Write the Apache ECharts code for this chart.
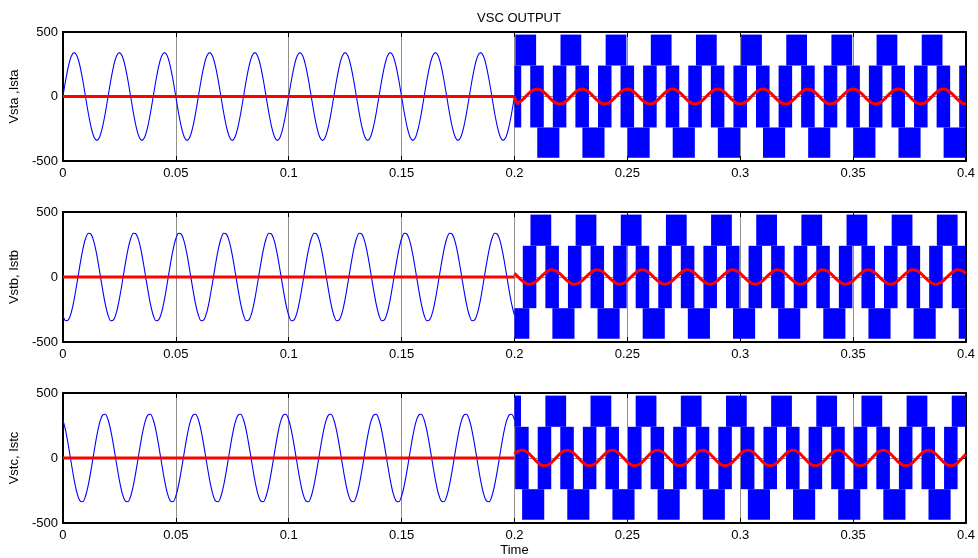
<!DOCTYPE html>
<html>
<head>
<meta charset="utf-8">
<script src="https://cdn.jsdelivr.net/npm/echarts@6/dist/echarts.min.js"></script>
<style>
html,body{margin:0;padding:0;background:#fff;}
#chart{width:978px;height:558px;}
</style>
</head>
<body>
<div id="chart"></div>
<script>
// ---------------- DATA ----------------
const xTickLabels = ['0','0.05','0.1','0.15','0.2','0.25','0.3','0.35','0.4'];
const yNames = ['Vsta ,Ista', 'Vstb, Istb', 'Vstc, Istc'];

// sample step of the waveforms (s)
const sampleStep = 0.00125;
const sineStart = 0.0;     // sinusoidal voltage from 0 to 0.2 s
const outStart = 0.2;      // VSC output from 0.2 to 0.4 s

// blue sinusoidal voltage, 0 .. 0.2 s
const vSineA = [
  0,130,240,314,340,314,240,130,0,-130,-240,-314,-340,-314,-240,-130,
  0,130,240,314,340,314,240,130,0,-130,-240,-314,-340,-314,-240,-130,
  0,130,240,314,340,314,240,130,0,-130,-240,-314,-340,-314,-240,-130,
  0,130,240,314,340,314,240,130,0,-130,-240,-314,-340,-314,-240,-130,
  0,130,240,314,340,314,240,130,0,-130,-240,-314,-340,-314,-240,-130,
  0,130,240,314,340,314,240,130,0,-130,-240,-314,-340,-314,-240,-130,
  0,130,240,314,340,314,240,130,0,-130,-240,-314,-340,-314,-240,-130,
  0,130,240,314,340,314,240,130,0,-130,-240,-314,-340,-314,-240,-130,
  0,130,240,314,340,314,240,130,0,-130,-240,-314,-340,-314,-240,-130,
  0,130,240,314,340,314,240,130,0,-130,-240,-314,-340,-314,-240,-130,
  0];
const vSineB = [
  -294,-337,-328,-270,-170,-44,88,207,294,337,328,270,170,44,-88,-207,
  -294,-337,-328,-270,-170,-44,88,207,294,337,328,270,170,44,-88,-207,
  -294,-337,-328,-270,-170,-44,88,207,294,337,328,270,170,44,-88,-207,
  -294,-337,-328,-270,-170,-44,88,207,294,337,328,270,170,44,-88,-207,
  -294,-337,-328,-270,-170,-44,88,207,294,337,328,270,170,44,-88,-207,
  -294,-337,-328,-270,-170,-44,88,207,294,337,328,270,170,44,-88,-207,
  -294,-337,-328,-270,-170,-44,88,207,294,337,328,270,170,44,-88,-207,
  -294,-337,-328,-270,-170,-44,88,207,294,337,328,270,170,44,-88,-207,
  -294,-337,-328,-270,-170,-44,88,207,294,337,328,270,170,44,-88,-207,
  -294,-337,-328,-270,-170,-44,88,207,294,337,328,270,170,44,-88,-207,
  -294];
const vSineC = [
  294,207,88,-44,-170,-270,-328,-337,-294,-207,-88,44,170,270,328,337,
  294,207,88,-44,-170,-270,-328,-337,-294,-207,-88,44,170,270,328,337,
  294,207,88,-44,-170,-270,-328,-337,-294,-207,-88,44,170,270,328,337,
  294,207,88,-44,-170,-270,-328,-337,-294,-207,-88,44,170,270,328,337,
  294,207,88,-44,-170,-270,-328,-337,-294,-207,-88,44,170,270,328,337,
  294,207,88,-44,-170,-270,-328,-337,-294,-207,-88,44,170,270,328,337,
  294,207,88,-44,-170,-270,-328,-337,-294,-207,-88,44,170,270,328,337,
  294,207,88,-44,-170,-270,-328,-337,-294,-207,-88,44,170,270,328,337,
  294,207,88,-44,-170,-270,-328,-337,-294,-207,-88,44,170,270,328,337,
  294,207,88,-44,-170,-270,-328,-337,-294,-207,-88,44,170,270,328,337,
  294];

// red current: idle (0..0.2 s) and output (0.2..0.4 s)
const iIdleT = [0, 0.2];
const iIdleV = [0, 0];
const iOutA = [
  0,-54,-41,-22,0,22,41,54,58,54,41,22,0,-22,-41,-54,
  -58,-54,-41,-22,0,22,41,54,58,54,41,22,0,-22,-41,-54,
  -58,-54,-41,-22,0,22,41,54,58,54,41,22,0,-22,-41,-54,
  -58,-54,-41,-22,0,22,41,54,58,54,41,22,0,-22,-41,-54,
  -58,-54,-41,-22,0,22,41,54,58,54,41,22,0,-22,-41,-54,
  -58,-54,-41,-22,0,22,41,54,58,54,41,22,0,-22,-41,-54,
  -58,-54,-41,-22,0,22,41,54,58,54,41,22,0,-22,-41,-54,
  -58,-54,-41,-22,0,22,41,54,58,54,41,22,0,-22,-41,-54,
  -58,-54,-41,-22,0,22,41,54,58,54,41,22,0,-22,-41,-54,
  -58,-54,-41,-22,0,22,41,54,58,54,41,22,0,-22,-41,-54,
  -58];
const iOutB = [
  28,7,-14,-33,-48,-55,-53,-44,-28,-7,14,33,48,55,53,44,
  28,7,-14,-33,-48,-55,-53,-44,-28,-7,14,33,48,55,53,44,
  28,7,-14,-33,-48,-55,-53,-44,-28,-7,14,33,48,55,53,44,
  28,7,-14,-33,-48,-55,-53,-44,-28,-7,14,33,48,55,53,44,
  28,7,-14,-33,-48,-55,-53,-44,-28,-7,14,33,48,55,53,44,
  28,7,-14,-33,-48,-55,-53,-44,-28,-7,14,33,48,55,53,44,
  28,7,-14,-33,-48,-55,-53,-44,-28,-7,14,33,48,55,53,44,
  28,7,-14,-33,-48,-55,-53,-44,-28,-7,14,33,48,55,53,44,
  28,7,-14,-33,-48,-55,-53,-44,-28,-7,14,33,48,55,53,44,
  28,7,-14,-33,-48,-55,-53,-44,-28,-7,14,33,48,55,53,44,
  28];
const iOutC = [
  30,48,58,59,52,37,16,-8,-30,-48,-58,-59,-52,-37,-16,8,
  30,48,58,59,52,37,16,-8,-30,-48,-58,-59,-52,-37,-16,8,
  30,48,58,59,52,37,16,-8,-30,-48,-58,-59,-52,-37,-16,8,
  30,48,58,59,52,37,16,-8,-30,-48,-58,-59,-52,-37,-16,8,
  30,48,58,59,52,37,16,-8,-30,-48,-58,-59,-52,-37,-16,8,
  30,48,58,59,52,37,16,-8,-30,-48,-58,-59,-52,-37,-16,8,
  30,48,58,59,52,37,16,-8,-30,-48,-58,-59,-52,-37,-16,8,
  30,48,58,59,52,37,16,-8,-30,-48,-58,-59,-52,-37,-16,8,
  30,48,58,59,52,37,16,-8,-30,-48,-58,-59,-52,-37,-16,8,
  30,48,58,59,52,37,16,-8,-30,-48,-58,-59,-52,-37,-16,8,
  30];

// PWM voltage levels (V): bands the switching fills
const bandTop = [240, 480];
const bandMid = [-240, 240];
const bandBot = [-475, -240];

// PWM switching bands: [start, end] times (s)
const topA = [[0.2004,0.2096],[0.2204,0.2296],[0.2404,0.2496],[0.2604,0.2696],[0.2804,0.2896],
  [0.3004,0.3096],[0.3204,0.3296],[0.3404,0.3496],[0.3604,0.3696],[0.3804,0.3896]];
const botA = [[0.2101,0.2199],[0.2301,0.2399],[0.2501,0.2599],[0.2701,0.2799],[0.2901,0.2999],
  [0.3101,0.3199],[0.3301,0.3399],[0.3501,0.3599],[0.3701,0.3799],[0.3901,0.3999]];
const midA = [[0.2,0.203],[0.207,0.213],[0.217,0.223],[0.227,0.233],[0.237,0.243],[0.247,0.253],
  [0.257,0.263],[0.267,0.273],[0.277,0.283],[0.287,0.293],[0.297,0.303],[0.307,0.313],
  [0.317,0.323],[0.327,0.333],[0.337,0.343],[0.347,0.353],[0.357,0.363],[0.367,0.373],
  [0.377,0.383],[0.387,0.393],[0.397,0.4]];

const topB = [[0.2071,0.2163],[0.2271,0.2363],[0.2471,0.2563],[0.2671,0.2763],[0.2871,0.2963],
  [0.3071,0.3163],[0.3271,0.3363],[0.3471,0.3563],[0.3671,0.3763],[0.3871,0.3963]];
const botB = [[0.2,0.2066],[0.2168,0.2266],[0.2368,0.2466],[0.2568,0.2666],[0.2768,0.2866],
  [0.2968,0.3066],[0.3168,0.3266],[0.3368,0.3466],[0.3568,0.3666],[0.3768,0.3866],[0.3968,0.4]];
const midB = [[0.2037,0.2097],[0.2137,0.2197],[0.2237,0.2297],[0.2337,0.2397],[0.2437,0.2497],
  [0.2537,0.2597],[0.2637,0.2697],[0.2737,0.2797],[0.2837,0.2897],[0.2937,0.2997],
  [0.3037,0.3097],[0.3137,0.3197],[0.3237,0.3297],[0.3337,0.3397],[0.3437,0.3497],
  [0.3537,0.3597],[0.3637,0.3697],[0.3737,0.3797],[0.3837,0.3897],[0.3937,0.3997]];

const topC = [[0.2,0.2029],[0.2137,0.2229],[0.2337,0.2429],[0.2537,0.2629],[0.2737,0.2829],
  [0.2937,0.3029],[0.3137,0.3229],[0.3337,0.3429],[0.3537,0.3629],[0.3737,0.3829],[0.3937,0.4]];
const botC = [[0.2034,0.2132],[0.2234,0.2332],[0.2434,0.2532],[0.2634,0.2732],[0.2834,0.2932],
  [0.3034,0.3132],[0.3234,0.3332],[0.3434,0.3532],[0.3634,0.3732],[0.3834,0.3932]];
const midC = [[0.2003,0.2063],[0.2103,0.2163],[0.2203,0.2263],[0.2303,0.2363],[0.2403,0.2463],
  [0.2503,0.2563],[0.2603,0.2663],[0.2703,0.2763],[0.2803,0.2863],[0.2903,0.2963],
  [0.3003,0.3063],[0.3103,0.3163],[0.3203,0.3263],[0.3303,0.3363],[0.3403,0.3463],
  [0.3503,0.3563],[0.3603,0.3663],[0.3703,0.3763],[0.3803,0.3863],[0.3903,0.3963]];

// ---------------- CHART ----------------
const FONT = '"Liberation Sans", Arial, Helvetica, sans-serif';
const phases = [
  {sine: vSineA, iout: iOutA, top: topA, mid: midA, bot: botA},
  {sine: vSineB, iout: iOutB, top: topB, mid: midB, bot: botB},
  {sine: vSineC, iout: iOutC, top: topC, mid: midC, bot: botC}
];
const gridBoxes = [
  {left: 62, right: 12, top: 32, height: 129},
  {left: 62, right: 12, top: 212, height: 130},
  {left: 62, right: 12, top: 393, height: 130}
];

function pairs(t0, vals) {
  return vals.map((v, i) => [+(t0 + i * sampleStep).toFixed(6), v]);
}
function bands(list, band) {
  return list.map(iv => [iv[0], iv[1], band[0], band[1]]);
}
function renderBlock(params, api) {
  const p0 = api.coord([api.value(0), api.value(3)]);
  const p1 = api.coord([api.value(1), api.value(2)]);
  return {
    type: 'rect',
    shape: {x: p0[0], y: p0[1], width: p1[0] - p0[0], height: p1[1] - p0[1]},
    style: {fill: '#0000ff'}
  };
}

const axisLineStyle = {show: true, onZero: false, lineStyle: {color: '#000', width: 2}};
const tickStyle = {show: true, inside: true, length: 5, lineStyle: {color: '#000', width: 1}};
const gridLineStyle = {show: true, lineStyle: {color: '#909090', width: 1}};
const xAxes = [], yAxes = [], series = [];

gridBoxes.forEach((g, i) => {
  const last = i === gridBoxes.length - 1;
  xAxes.push({
    type: 'value', gridIndex: i, position: 'bottom', min: 0, max: 0.4, interval: 0.05,
    axisLine: axisLineStyle, axisTick: tickStyle,
    axisLabel: {margin: 6, fontSize: 13, color: '#000', fontFamily: FONT,
      formatter: v => xTickLabels[Math.round(v / 0.05)]},
    splitLine: gridLineStyle,
    name: last ? 'Time' : '', nameLocation: 'middle', nameGap: 21,
    nameTextStyle: {fontSize: 13, color: '#000', fontFamily: FONT}
  });
  xAxes.push({
    type: 'value', gridIndex: i, position: 'top', min: 0, max: 0.4, interval: 0.05,
    axisLine: axisLineStyle, axisTick: tickStyle, axisLabel: {show: false}, splitLine: {show: false}
  });
  yAxes.push({
    type: 'value', gridIndex: i, position: 'left', min: -500, max: 500, interval: 500,
    axisLine: axisLineStyle, axisTick: tickStyle,
    axisLabel: {margin: 5, fontSize: 13, color: '#000', fontFamily: FONT},
    splitLine: gridLineStyle,
    name: yNames[i], nameLocation: 'middle', nameGap: 34,
    nameTextStyle: {fontSize: 13, color: '#000', fontFamily: FONT}
  });
  yAxes.push({
    type: 'value', gridIndex: i, position: 'right', min: -500, max: 500, interval: 500,
    axisLine: axisLineStyle, axisTick: tickStyle, axisLabel: {show: false}, splitLine: {show: false}
  });

  const ph = phases[i];
  const xi = 2 * i, yi = 2 * i;
  // PWM switching bands
  series.push({
    type: 'custom', xAxisIndex: xi, yAxisIndex: yi, renderItem: renderBlock,
    encode: {x: [0, 1], y: [2, 3]}, clip: true, z: 2,
    data: bands(ph.top, bandTop).concat(bands(ph.mid, bandMid), bands(ph.bot, bandBot))
  });
  // sinusoidal voltage
  series.push({
    type: 'line', xAxisIndex: xi, yAxisIndex: yi, data: pairs(sineStart, ph.sine),
    smooth: 0.3, showSymbol: false, z: 3,
    lineStyle: {color: '#0000ff', width: 1.1}
  });
  // current idle
  series.push({
    type: 'line', xAxisIndex: xi, yAxisIndex: yi, data: iIdleT.map((t, k) => [t, iIdleV[k]]),
    showSymbol: false, z: 4, lineStyle: {color: '#ff0000', width: 3}
  });
  // current output
  series.push({
    type: 'line', xAxisIndex: xi, yAxisIndex: yi, data: pairs(outStart, ph.iout),
    smooth: 0.3, showSymbol: false, z: 4, lineStyle: {color: '#ff0000', width: 3}
  });
});

const chart = echarts.init(document.getElementById('chart'), null, {renderer: 'canvas'});
chart.setOption({
  animation: false,
  backgroundColor: '#fff',
  title: {text: 'VSC OUTPUT', left: 514, top: 7, textAlign: 'center',
    textStyle: {fontSize: 13, fontWeight: 'normal', color: '#000', fontFamily: FONT}},
  grid: gridBoxes,
  xAxis: xAxes,
  yAxis: yAxes,
  series: series
});
</script>
</body>
</html>
